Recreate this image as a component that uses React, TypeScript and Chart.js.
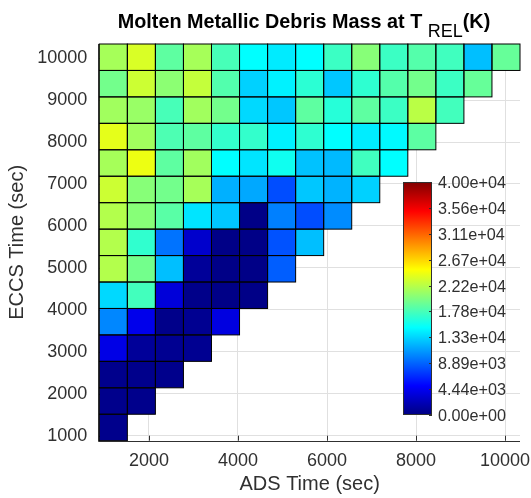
import React, { useEffect, useRef } from 'react';
import { Chart, registerables } from 'chart.js';

Chart.register(...registerables);

const FONT = '"Liberation Sans", Arial, Helvetica, sans-serif';
Chart.defaults.font.family = FONT;

// ---- data ----
const adsTimes = [1200, 1830, 2460, 3090, 3720, 4350, 4980, 5610, 6240, 6870, 7500, 8130, 8760, 9390, 10020];
const eccsTimes = [1200, 1830, 2460, 3090, 3720, 4350, 4980, 5610, 6240, 6870, 7500, 8130, 8760, 9390, 10020];
const xTickValues = [2000, 4000, 6000, 8000, 10000];
const yTickValues = [1000, 2000, 3000, 4000, 5000, 6000, 7000, 8000, 9000, 10000];
const colorbarTicks = [0, 4444, 8889, 13333, 17778, 22222, 26667, 31111, 35556, 40000];
const colorbarLabels = ['0.00e+00', '4.44e+03', '8.89e+03', '1.33e+04', '1.78e+04', '2.22e+04', '2.67e+04', '3.11e+04', '3.56e+04', '4.00e+04'];
const colorMin = 0;
const colorMax = 40000;

// molten metallic debris mass, one list per ECCS time, ADS time ascending
const mass_eccs_1200 = [500];
const mass_eccs_1830 = [500, 500];
const mass_eccs_2460 = [500, 500, 500];
const mass_eccs_3090 = [4000, 1000, 700, 700];
const mass_eccs_3720 = [10300, 4200, 400, 700, 3800];
const mass_eccs_4350 = [13500, 17600, 3500, 400, 300, 300];
const mass_eccs_4980 = [22000, 19500, 12500, 1000, 300, 300, 8700];
const mass_eccs_5610 = [22000, 16900, 9500, 3000, 300, 300, 8200, 12500];
const mass_eccs_6240 = [22000, 20300, 18500, 14000, 12800, 300, 10000, 8000, 10500];
const mass_eccs_6870 = [23000, 20300, 19500, 21500, 11900, 11600, 8000, 12800, 12000, 13200];
const mass_eccs_7500 = [21500, 24300, 18700, 21300, 15000, 14000, 15600, 12600, 12300, 17500, 15000];
const mass_eccs_8130 = [24000, 21300, 18000, 18700, 17000, 17000, 14500, 16800, 15000, 14300, 14800, 18600];
const mass_eccs_8760 = [21300, 21000, 17800, 21300, 19500, 13500, 12800, 18700, 16500, 18700, 17300, 22300, 17600];
const mass_eccs_9390 = [19500, 23000, 20500, 22700, 18200, 13200, 14500, 16700, 12800, 16800, 18300, 19500, 17300, 19000];
const mass_eccs_10020 = [21500, 23500, 18700, 21500, 17800, 15000, 14200, 15000, 17300, 20300, 17300, 18300, 17500, 12500, 19000];

const massRows = [
  mass_eccs_1200, mass_eccs_1830, mass_eccs_2460, mass_eccs_3090, mass_eccs_3720,
  mass_eccs_4350, mass_eccs_4980, mass_eccs_5610, mass_eccs_6240, mass_eccs_6870,
  mass_eccs_7500, mass_eccs_8130, mass_eccs_8760, mass_eccs_9390, mass_eccs_10020,
];

// ---- style / layout constants ----
const CELL_HALF = 315;
const X_MIN = 885;
const X_MAX = 10335;
const TEXT = '#303030';
const CB = { left: 403, right: 432, top: 182, bottom: 415 };

function clamp01(v: number) {
  return Math.max(0, Math.min(1, v));
}
function jet(v: number) {
  const f = clamp01((v - colorMin) / (colorMax - colorMin));
  const r = clamp01(1.5 - Math.abs(4 * f - 3));
  const g = clamp01(1.5 - Math.abs(4 * f - 2));
  const b = clamp01(1.5 - Math.abs(4 * f - 1));
  return `rgb(${Math.round(r * 255)},${Math.round(g * 255)},${Math.round(b * 255)})`;
}

const heatmapPlugin = {
  id: 'heatmap',
  beforeDatasetsDraw(chart: any) {
    const { ctx, chartArea, scales } = chart;
    const x = scales.x;
    const y = scales.y;
    ctx.save();
    ctx.strokeStyle = TEXT;
    ctx.lineWidth = 1;
    ctx.beginPath();
    xTickValues.forEach((v) => {
      const px = Math.round(x.getPixelForValue(v)) + 0.5;
      ctx.moveTo(px, chartArea.bottom);
      ctx.lineTo(px, chartArea.bottom - 5);
    });
    yTickValues.forEach((v) => {
      const py = Math.round(y.getPixelForValue(v)) + 0.5;
      ctx.moveTo(chartArea.left, py);
      ctx.lineTo(chartArea.left + 5, py);
    });
    ctx.stroke();
    ctx.restore();
  },
  afterDatasetsDraw(chart: any) {
    const { ctx, chartArea, scales } = chart;
    const x = scales.x;
    const y = scales.y;
    ctx.save();
    // cells
    massRows.forEach((row, j) => {
      row.forEach((val, i) => {
        const x0 = x.getPixelForValue(adsTimes[i] - CELL_HALF);
        const x1 = x.getPixelForValue(adsTimes[i] + CELL_HALF);
        const y0 = y.getPixelForValue(eccsTimes[j] + CELL_HALF);
        const y1 = y.getPixelForValue(eccsTimes[j] - CELL_HALF);
        ctx.fillStyle = jet(val);
        ctx.fillRect(x0, y0, x1 - x0, y1 - y0);
      });
    });
    ctx.strokeStyle = '#000';
    ctx.lineWidth = 1;
    massRows.forEach((row, j) => {
      row.forEach((_val, i) => {
        const x0 = x.getPixelForValue(adsTimes[i] - CELL_HALF);
        const x1 = x.getPixelForValue(adsTimes[i] + CELL_HALF);
        const y0 = y.getPixelForValue(eccsTimes[j] + CELL_HALF);
        const y1 = y.getPixelForValue(eccsTimes[j] - CELL_HALF);
        ctx.strokeRect(x0, y0, x1 - x0, y1 - y0);
      });
    });
    // axis lines
    ctx.strokeStyle = TEXT;
    ctx.lineWidth = 1;
    ctx.beginPath();
    const l = Math.round(chartArea.left) - 0.5;
    const b = Math.round(chartArea.bottom) + 0.5;
    ctx.moveTo(l, chartArea.top);
    ctx.lineTo(l, b);
    ctx.lineTo(chartArea.right, b);
    ctx.stroke();

    // colorbar
    const grad = ctx.createLinearGradient(0, CB.bottom, 0, CB.top);
    const stops = [0, 0.125, 0.25, 0.375, 0.5, 0.625, 0.75, 0.875, 1];
    stops.forEach((s) => grad.addColorStop(s, jet(colorMin + s * (colorMax - colorMin))));
    ctx.fillStyle = grad;
    ctx.fillRect(CB.left, CB.top, CB.right - CB.left, CB.bottom - CB.top);
    ctx.strokeStyle = TEXT;
    ctx.strokeRect(CB.left + 0.5, CB.top + 0.5, CB.right - CB.left - 1, CB.bottom - CB.top - 1);
    ctx.font = `16.2px ${FONT}`;
    ctx.fillStyle = TEXT;
    ctx.textAlign = 'left';
    ctx.textBaseline = 'middle';
    colorbarTicks.forEach((v, k) => {
      const py = CB.bottom - ((v - colorMin) / (colorMax - colorMin)) * (CB.bottom - CB.top);
      ctx.beginPath();
      ctx.moveTo(CB.right - 3, Math.round(py) + 0.5);
      ctx.lineTo(CB.right, Math.round(py) + 0.5);
      ctx.stroke();
      ctx.fillText(colorbarLabels[k], CB.right + 6, py + 1.5);
    });

    // title with subscript
    const main = 'Molten Metallic Debris Mass at T ';
    const sub = 'REL';
    const tail = '(K)';
    const boldFont = `bold 19.8px ${FONT}`;
    const subFont = `18px ${FONT}`;
    ctx.font = boldFont;
    const w1 = ctx.measureText(main).width;
    const w3 = ctx.measureText(tail).width;
    ctx.font = subFont;
    const w2 = ctx.measureText(sub).width;
    const total = w1 + w2 + w3;
    let tx = 304 - total / 2;
    ctx.textBaseline = 'alphabetic';
    ctx.fillStyle = '#000';
    ctx.font = boldFont;
    ctx.fillText(main, tx, 28);
    tx += w1;
    ctx.font = subFont;
    ctx.fillText(sub, tx, 37);
    tx += w2;
    ctx.font = boldFont;
    ctx.fillText(tail, tx, 28);
    ctx.restore();
  },
};

export default function App() {
  const canvasRef = useRef<HTMLCanvasElement | null>(null);

  useEffect(() => {
    const canvas = canvasRef.current;
    if (!canvas) return;
    const chart = new Chart(canvas, {
      type: 'scatter',
      data: { datasets: [] },
      options: {
        animation: false,
        responsive: false,
        maintainAspectRatio: false,
        layout: { padding: { top: 44, right: 11, left: 0, bottom: 0 } },
        plugins: {
          legend: { display: false },
          tooltip: { enabled: false },
          title: { display: false },
        },
        scales: {
          x: {
            type: 'linear',
            position: 'bottom',
            min: X_MIN,
            max: X_MAX,
            afterBuildTicks: (s: any) => {
              s.ticks = xTickValues.map((v) => ({ value: v }));
            },
            afterFit: (s: any) => {
              s.height = 57.3;
              s.paddingLeft = 0;
              s.paddingRight = 0;
            },
            grid: { color: '#e0e0e0', lineWidth: 1, drawTicks: false },
            border: { display: false },
            ticks: {
              color: TEXT,
              font: { size: 18, family: FONT },
              padding: 10,
              maxRotation: 0,
              autoSkip: false,
              callback: (v: any) => String(v),
            },
            title: {
              display: true,
              text: 'ADS Time (sec)',
              color: TEXT,
              font: { size: 20, family: FONT },
              padding: { top: 0, bottom: 1.5 },
            },
          },
          y: {
            type: 'linear',
            position: 'left',
            min: X_MIN,
            max: X_MAX,
            afterBuildTicks: (s: any) => {
              s.ticks = yTickValues.map((v) => ({ value: v }));
            },
            afterFit: (s: any) => {
              s.width = 99.3;
              s.paddingTop = 0;
              s.paddingBottom = 0;
            },
            grid: { color: '#e0e0e0', lineWidth: 1, drawTicks: false },
            border: { display: false },
            ticks: {
              color: TEXT,
              font: { size: 18, family: FONT },
              padding: 12,
              autoSkip: false,
              callback: (v: any) => String(v),
            },
            title: {
              display: true,
              text: 'ECCS Time (sec)',
              color: TEXT,
              font: { size: 20, family: FONT },
              padding: { top: 5.5, bottom: 0 },
            },
          },
        },
      },
      plugins: [heatmapPlugin],
    });
    return () => chart.destroy();
  }, []);

  return (
    <div style={{ position: 'absolute', left: 0, top: 0, width: 531, height: 498, background: '#fff' }}>
      <canvas ref={canvasRef} width={531} height={498} style={{ width: 531, height: 498, display: 'block' }} />
    </div>
  );
}
